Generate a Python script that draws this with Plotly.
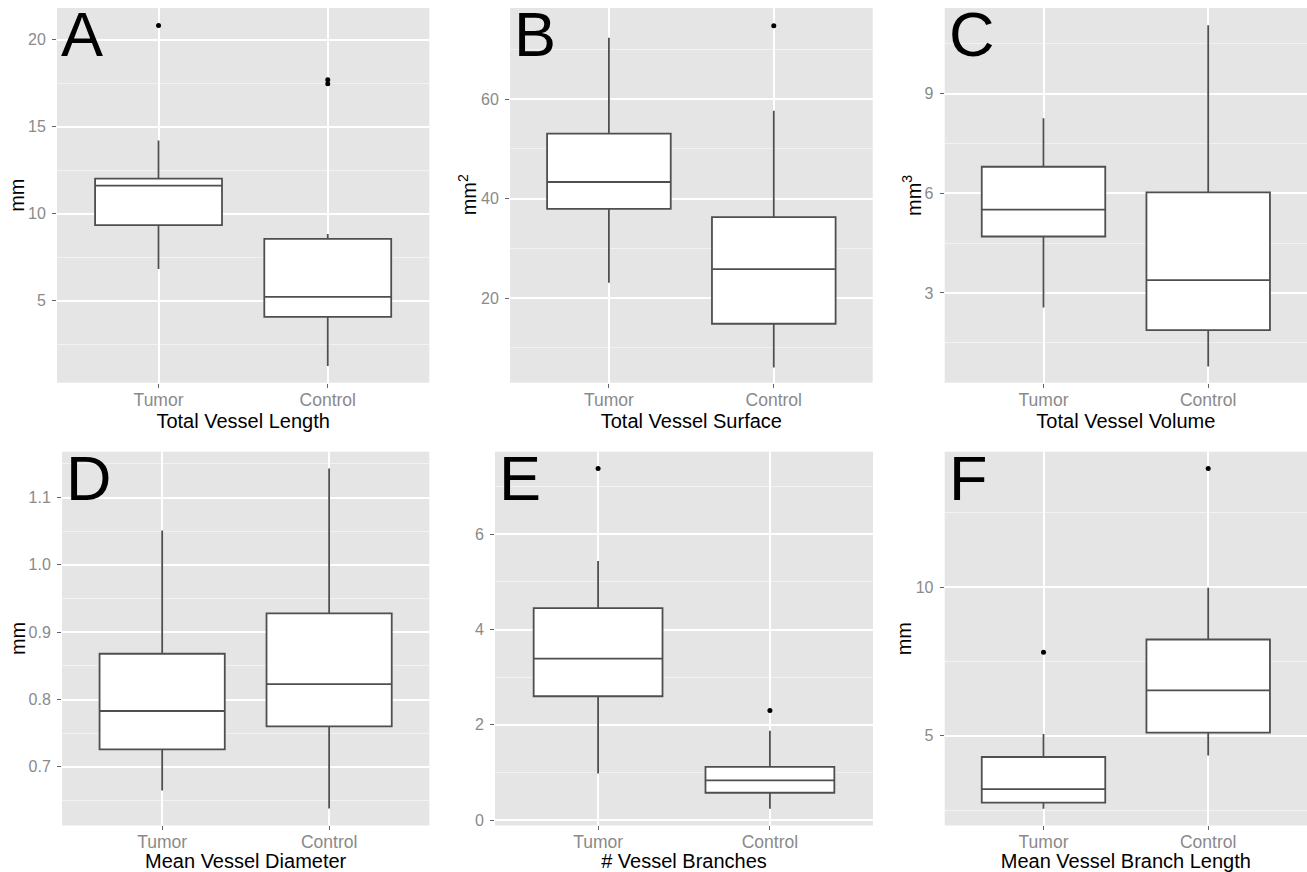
import plotly.graph_objects as go

W, H = 1307, 872

groups = ["Tumor", "Control"]

# Panel A: Total Vessel Length (mm)
A_lower = [6.83, 1.26]
A_q1 = [9.35, 4.08]
A_median = [11.62, 5.23]
A_q3 = [12.02, 8.56]
A_upper = [14.21, 8.84]
A_out_x = ["Tumor", "Control", "Control"]
A_out_y = [20.82, 17.71, 17.48]

# Panel B: Total Vessel Surface (mm^2)
B_lower = [23.07, 6.06]
B_q1 = [37.91, 14.84]
B_median = [43.33, 25.82]
B_q3 = [53.03, 36.25]
B_upper = [72.3, 57.65]
B_out_x = ["Control"]
B_out_y = [74.72]

# Panel C: Total Vessel Volume (mm^3)
C_lower = [2.56, 0.79]
C_q1 = [4.70, 1.88]
C_median = [5.51, 3.39]
C_q3 = [6.80, 6.03]
C_upper = [8.26, 11.06]
C_out_x = []
C_out_y = []

# Panel D: Mean Vessel Diameter (mm)
D_lower = [0.665, 0.638]
D_q1 = [0.726, 0.760]
D_median = [0.783, 0.823]
D_q3 = [0.868, 0.928]
D_upper = [1.051, 1.143]
D_out_x = []
D_out_y = []

# Panel E: # Vessel Branches
E_lower = [0.98, 0.24]
E_q1 = [2.60, 0.576]
E_median = [3.39, 0.835]
E_q3 = [4.45, 1.12]
E_upper = [5.44, 1.875]
E_out_x = ["Tumor", "Control"]
E_out_y = [7.38, 2.30]

# Panel F: Mean Vessel Branch Length (mm)
F_lower = [2.55, 4.34]
F_q1 = [2.76, 5.11]
F_median = [3.21, 6.53]
F_q3 = [4.29, 8.24]
F_upper = [5.06, 9.98]
F_out_x = ["Tumor", "Control"]
F_out_y = [7.81, 13.99]

panels = [
    dict(letter="A", xtitle="Total Vessel Length", ytitle="mm", yts=-39.5,
         lo=A_lower, q1=A_q1, med=A_median, q3=A_q3, up=A_upper, ox=A_out_x, oy=A_out_y,
         rng=[0.30, 21.83], tick0=0, dtick=5, mdtick=2.5, fmt="",
         px=(57, 429.3), py=(8, 384)),
    dict(letter="B", xtitle="Total Vessel Surface", ytitle="mm<sup>2</sup>", yts=-43,
         lo=B_lower, q1=B_q1, med=B_median, q3=B_q3, up=B_upper, ox=B_out_x, oy=B_out_y,
         rng=[3.0, 78.3], tick0=0, dtick=20, mdtick=10, fmt="",
         px=(510, 872.7), py=(8, 384)),
    dict(letter="C", xtitle="Total Vessel Volume", ytitle="mm<sup>3</sup>", yts=-33,
         lo=C_lower, q1=C_q1, med=C_median, q3=C_q3, up=C_upper, ox=C_out_x, oy=C_out_y,
         rng=[0.30, 11.58], tick0=0, dtick=3, mdtick=1.5, fmt="",
         px=(944.7, 1307), py=(8, 384)),
    dict(letter="D", xtitle="Mean Vessel Diameter", ytitle="mm", yts=-44.5,
         lo=D_lower, q1=D_q1, med=D_median, q3=D_q3, up=D_upper, ox=D_out_x, oy=D_out_y,
         rng=[0.613, 1.168], tick0=0, dtick=0.1, mdtick=0.05, fmt=".1f",
         px=(62, 429.3), py=(453.3, 828.3)),
    dict(letter="E", xtitle="# Vessel Branches", ytitle=None, yts=0,
         lo=E_lower, q1=E_q1, med=E_median, q3=E_q3, up=E_upper, ox=E_out_x, oy=E_out_y,
         rng=[-0.11, 7.73], tick0=0, dtick=2, mdtick=1, fmt="",
         px=(495, 873), py=(453.3, 828.3)),
    dict(letter="F", xtitle="Mean Vessel Branch Length", ytitle="mm", yts=-41,
         lo=F_lower, q1=F_q1, med=F_median, q3=F_q3, up=F_upper, ox=F_out_x, oy=F_out_y,
         rng=[1.99, 14.55], tick0=0, dtick=5, mdtick=2.5, fmt="",
         px=(944.7, 1307), py=(453.3, 828.3)),
]

FONT = "Liberation Sans, Arial, sans-serif"
TICKCOL = "#8a8a8a"
BOXCOL = "#4f4f4f"

fig = go.Figure()
layout = dict(
    width=W, height=H, margin=dict(l=0, r=0, t=0, b=0),
    paper_bgcolor="white", plot_bgcolor="#E5E5E5",
    showlegend=False, font=dict(family=FONT, color="black"),
    annotations=[],
)

for i, p in enumerate(panels):
    n = "" if i == 0 else str(i + 1)
    xa, ya = "x" + n, "y" + n
    fig.add_trace(go.Box(
        x=groups, q1=p["q1"], median=p["med"], q3=p["q3"],
        lowerfence=p["lo"], upperfence=p["up"],
        width=0.75, whiskerwidth=0, boxpoints=False,
        fillcolor="white", line=dict(color=BOXCOL, width=1.8),
        xaxis=xa, yaxis=ya, hoverinfo="skip",
    ))
    if p["ox"]:
        fig.add_trace(go.Scatter(
            x=p["ox"], y=p["oy"], mode="markers",
            marker=dict(color="black", size=5),
            xaxis=xa, yaxis=ya, hoverinfo="skip",
        ))
    x0, x1 = p["px"]
    y0, y1 = p["py"]
    layout["xaxis" + n] = dict(
        domain=[x0 / W, x1 / W], anchor=ya,
        type="category", categoryorder="array", categoryarray=groups,
        range=[-0.6, 1.6], showgrid=True, gridcolor="white", gridwidth=1.5,
        zeroline=False, showline=False,
        ticks="outside", ticklen=4, tickcolor="#666666", tickwidth=1,
        ticklabelstandoff=-3,
        tickfont=dict(size=17.5, color=TICKCOL, family=FONT),
        title=dict(text=p["xtitle"], font=dict(size=20, color="black", family=FONT), standoff=0),
        fixedrange=True,
    )
    layout["yaxis" + n] = dict(
        domain=[1 - y1 / H, 1 - y0 / H], anchor=xa,
        range=p["rng"], tick0=p["tick0"], dtick=p["dtick"], tickformat=p["fmt"],
        showgrid=True, gridcolor="white", gridwidth=1.5,
        minor=dict(tick0=p["tick0"], dtick=p["mdtick"], showgrid=True,
                   gridcolor="#F2F2F2", gridwidth=1, ticks=""),
        zeroline=False, showline=False,
        ticks="outside", ticklen=4, tickcolor="#666666", tickwidth=1,
        ticklabelstandoff=3,
        tickfont=dict(size=16, color=TICKCOL, family=FONT),
        fixedrange=True,
    )
    if p["ytitle"]:
        layout["annotations"].append(dict(
            text=p["ytitle"], xref=xa + " domain", yref=ya + " domain",
            x=0, y=0.5, xanchor="center", yanchor="middle", xshift=p["yts"],
            textangle=-90, showarrow=False,
            font=dict(size=20, color="black", family=FONT),
        ))
    layout["annotations"].append(dict(
        text=p["letter"], xref=xa + " domain", yref=ya + " domain",
        x=0, y=1, xanchor="left", yanchor="top", xshift=2, yshift=11,
        showarrow=False, font=dict(size=63, color="black", family=FONT),
    ))

fig.update_layout(**layout)
fig.write_html("out.html", config={"displayModeBar": False},
               post_script="document.body.style.margin='0';document.body.style.padding='0';")
